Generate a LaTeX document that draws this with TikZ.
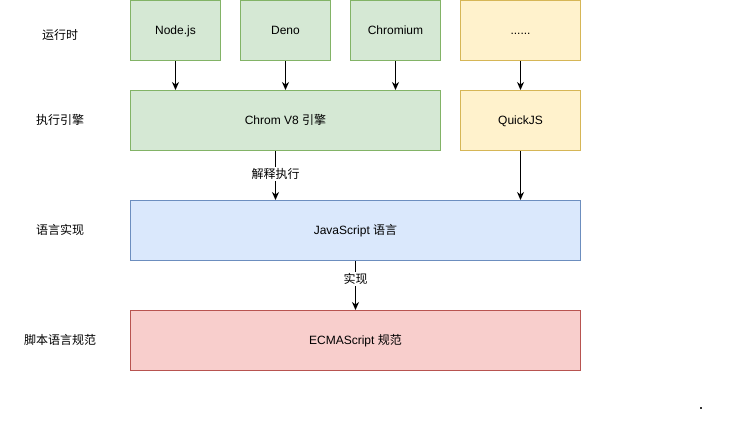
\documentclass[tikz,border=0pt]{standalone}
\usepackage{fontspec}
\setmainfont{Liberation Sans}
\newfontfamily\cjk{Noto Sans CJK SC}
\usetikzlibrary{arrows.meta}
\definecolor{gfill}{HTML}{D5E8D4}
\definecolor{gline}{HTML}{82B366}
\definecolor{yfill}{HTML}{FFF2CC}
\definecolor{yline}{HTML}{D6B656}
\definecolor{bfill}{HTML}{DAE8FC}
\definecolor{bline}{HTML}{6C8EBF}
\definecolor{rfill}{HTML}{F8CECC}
\definecolor{rline}{HTML}{B85450}
\begin{document}
\begin{tikzpicture}[x=1pt,y=-1pt,
  font=\fontsize{12}{14}\selectfont,
  box/.style={draw, line width=1pt, minimum height=60pt, inner sep=0pt,
    text height=10.5pt, text depth=3.5pt},
  green/.style={box, fill=gfill, draw=gline},
  yellow/.style={box, fill=yfill, draw=yline},
  blue/.style={box, fill=bfill, draw=bline},
  red/.style={box, fill=rfill, draw=rline},
  side/.style={inner sep=0pt},
  arr/.style={line width=1pt, -{Stealth[length=8pt,width=7pt,inset=2.5pt]}},
  lbl/.style={fill=white, inner sep=1.5pt}]
\useasboundingbox (0,0) rectangle (731,421);
% side labels
\node[side] (l1) at (60,34.5) {\cjk 运行时};
\node[side] (l2) at (60,120) {\cjk 执行引擎};
\node[side] (l3) at (60,230) {\cjk 语言实现};
\node[side] (l4) at (60,340) {\cjk 脚本语言规范};
% runtime boxes
\node[green, minimum width=90pt] (node) at (175.5,30.5) {Node.js};
\node[green, minimum width=90pt] (deno) at (285.5,30.5) {Deno};
\node[green, minimum width=90pt] (chromium) at (395.5,30.5) {Chromium};
\node[yellow, minimum width=120pt] (dots) at (520.5,30.5) {......};
% engines
\node[green, minimum width=310pt] (v8) at (285.5,120.5) {Chrom V8 {\cjk 引擎}};
\node[yellow, minimum width=120pt] (quickjs) at (520.5,120.5) {QuickJS};
% language
\node[blue, minimum width=450pt] (js) at (355.5,230.5) {JavaScript {\cjk 语言}};
\node[red, minimum width=450pt] (ecma) at (355.5,340.5) {ECMAScript {\cjk 规范}};
% arrows
\draw[arr] (node.south) -- (node.south |- v8.north);
\draw[arr] (deno.south) -- (deno.south |- v8.north);
\draw[arr] (chromium.south) -- (chromium.south |- v8.north);
\draw[arr] (dots.south) -- (quickjs.north);
\draw[arr] ([xshift=-10pt]v8.south) -- ([xshift=-10pt]v8.south |- js.north)
  node[lbl, pos=0.46] (exec) {\cjk 解释执行};
\draw[arr] (quickjs.south) -- (quickjs.south |- js.north);
\draw[arr] (js.south) -- (ecma.north) node[lbl, pos=0.36] (impl) {\cjk 实现};
% stray dot
\fill[black!80] (699.5,407) rectangle (701.5,409);
\end{tikzpicture}
\end{document}
